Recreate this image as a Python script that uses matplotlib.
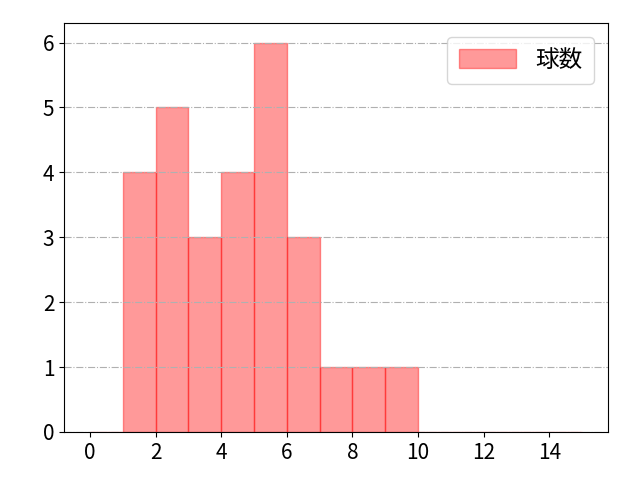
import matplotlib
matplotlib.use("Agg")
import matplotlib.pyplot as plt
import numpy as np

plt.rcParams['font.family'] = ['Noto Sans CJK JP', 'DejaVu Sans']

bin_edges = list(range(0, 16))
counts = [0, 4, 5, 3, 4, 6, 3, 1, 1, 1, 0, 0, 0, 0, 0]
label = "球数"

fig = plt.figure(figsize=(6.4, 4.8), dpi=100)
ax = fig.add_axes([0.1, 0.1, 0.85, 0.852])
left = np.array(bin_edges[:-1])
widths = np.diff(bin_edges)
ax.bar(left, counts, width=widths, align='edge', color='red', alpha=0.4,
       edgecolor='red', linewidth=1, label=label)
ax.set_xlim(-0.79, 15.79)
ax.set_ylim(0, 6.3)
ax.set_xticks(range(0, 15, 2))
ax.set_yticks(range(0, 7))
ax.grid(axis='y', linestyle='-.', color='#b0b0b0', linewidth=0.8)
ax.tick_params(labelsize=15)
ax.legend(loc='upper right', fontsize=17, handlelength=2.4, handleheight=0.85,
          borderaxespad=0.6, borderpad=0.5)
fig.savefig("out.png", dpi=100)
